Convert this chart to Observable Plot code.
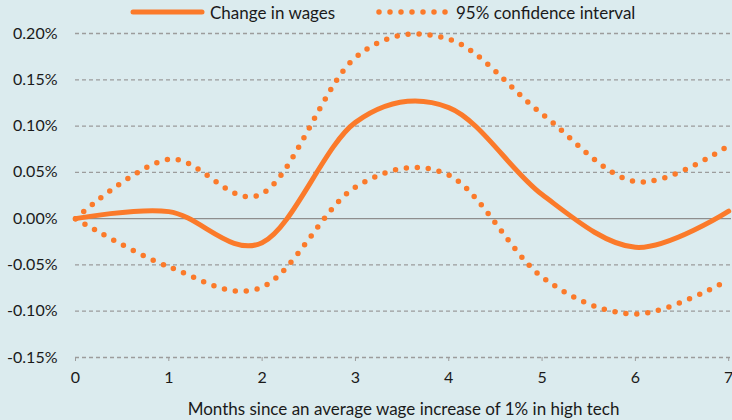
<!DOCTYPE html>
<html><head><meta charset="utf-8">
<script src="https://cdn.jsdelivr.net/npm/d3@7"></script>
<script src="https://cdn.jsdelivr.net/npm/@observablehq/plot@0.6"></script>
<style>
html,body{margin:0;padding:0;background:#dbebee;}
#wrap{width:732px;height:420px;position:relative;background:#dbebee;font-family:Lato,"Open Sans",sans-serif;color:#1a1a1a;overflow:hidden;}
#legend{position:relative;height:24px;font-size:17px;}
#legend .item{position:absolute;top:0;height:24px;display:flex;align-items:center;}
#legend svg{display:block;margin-right:4px;}
</style></head><body>
<div id="wrap"><div id="legend"></div><div id="chart"></div></div>
<script>
const months = [0, 1, 2, 3, 4, 5, 6, 7];
const wageChange = [0, 0.0076, -0.026, 0.104, 0.120, 0.026, -0.031, 0.008];
const ciUpper = [0, 0.064, 0.027, 0.174, 0.194, 0.113, 0.040, 0.079];
const ciLower = [0, -0.052, -0.074, 0.034, 0.047, -0.063, -0.103, -0.066];
const yTicks = [-0.15, -0.10, -0.05, 0, 0.05, 0.10, 0.15, 0.20];
const xTicks = [0, 1, 2, 3, 4, 5, 6, 7];
const seriesNames = ["Change in wages", "95% confidence interval"];
const xLabel = "Months since an average wage increase of 1% in high tech";

const orange = "#fb7a2a";
const rows = months.map((m, i) => ({m, wage: wageChange[i], up: ciUpper[i], lo: ciLower[i]}));

// legend
const legend = document.getElementById("legend");
const items = [
  {name: seriesNames[0], left: 130, dash: null},
  {name: seriesNames[1], left: 376, dash: "0 11"}
];
for (const it of items) {
  const div = document.createElement("div");
  div.className = "item";
  div.style.left = it.left + "px";
  const ns = "http://www.w3.org/2000/svg";
  const s = document.createElementNS(ns, "svg");
  s.setAttribute("width", 76); s.setAttribute("height", 10);
  const l = document.createElementNS(ns, "line");
  l.setAttribute("x1", 3); l.setAttribute("x2", 72); l.setAttribute("y1", 5); l.setAttribute("y2", 5);
  l.setAttribute("stroke", orange);
  l.setAttribute("stroke-linecap", "round");
  l.setAttribute("stroke-width", it.dash ? 5.5 : 5);
  if (it.dash) l.setAttribute("stroke-dasharray", it.dash);
  s.appendChild(l);
  div.appendChild(s);
  const t = document.createElement("span");
  t.textContent = it.name;
  div.appendChild(t);
  legend.appendChild(div);
}

const chart = Plot.plot({
  width: 732,
  height: 396,
  marginTop: 9,
  marginBottom: 63,
  marginLeft: 75,
  marginRight: 1,
  style: {background: "transparent", fontFamily: "Lato, 'Open Sans', sans-serif", fontSize: "16px", color: "#1a1a1a"},
  x: {domain: [0, 7.03]},
  y: {domain: [-0.15, 0.20]},
  marks: [
    Plot.ruleY(yTicks.filter(d => d !== 0), {stroke: "#9c9c9c", strokeWidth: 1.3, strokeDasharray: "4,3"}),
    Plot.ruleY([0], {stroke: "#8e8e8e", strokeWidth: 1.4}),
    Plot.lineY(rows, {x: "m", y: "up", curve: "cardinal", tension: 0, stroke: orange, strokeWidth: 5.5, strokeDasharray: "0 11", strokeLinecap: "round"}),
    Plot.lineY(rows, {x: "m", y: "lo", curve: "cardinal", tension: 0, stroke: orange, strokeWidth: 5.5, strokeDasharray: "0 11", strokeLinecap: "round"}),
    Plot.lineY(rows, {x: "m", y: "wage", curve: "cardinal", tension: 0, stroke: orange, strokeWidth: 5}),
    Plot.axisX({ticks: xTicks, tickSize: 4, tickPadding: 10, stroke: "#9c9c9c", tickFormat: d => String(d), label: null}),
    Plot.axisX({ticks: [], tickSize: 0, label: xLabel, labelAnchor: "center", labelArrow: "none", labelOffset: 57, fontSize: 17}),
    Plot.axisY({ticks: yTicks, tickSize: 0, tickPadding: 18, tickFormat: d => d.toFixed(2) + "%", label: null})
  ]
});
document.getElementById("chart").appendChild(chart);
</script>
</body></html>
